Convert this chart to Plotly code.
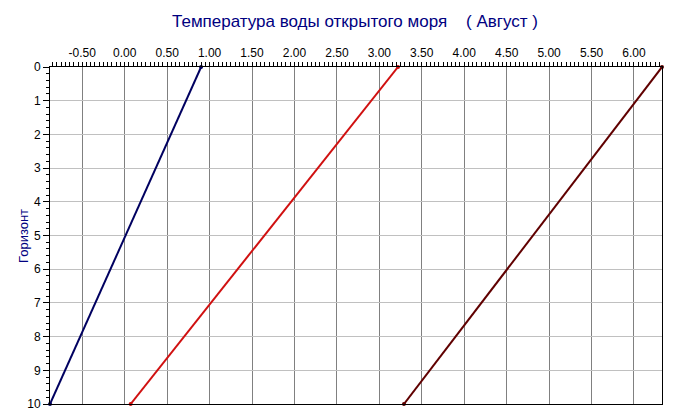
import plotly.graph_objects as go

horizons = [0, 10]
series_blue = [0.90, -0.88]
series_red = [3.22, 0.07]
series_darkred = [6.33, 3.29]
x_ticks = [-0.5, 0.0, 0.5, 1.0, 1.5, 2.0, 2.5, 3.0, 3.5, 4.0, 4.5, 5.0, 5.5, 6.0]
y_ticks = list(range(0, 11))

colors = ["#000060", "#d01010", "#600000"]

W, H = 675, 419
L, R, T, B = 50, 13, 67, 15
pw = W - L - R
ph = H - T - B

fig = go.Figure()
for vals, c in zip([series_blue, series_red, series_darkred], colors):
    fig.add_trace(go.Scatter(
        x=vals, y=horizons, mode="lines+markers",
        line=dict(color=c, width=2),
        marker=dict(color=c, size=4),
        showlegend=False, cliponaxis=False,
    ))

fig.update_layout(
    width=W, height=H,
    margin=dict(l=L, r=R, t=T, b=B, autoexpand=False),
    paper_bgcolor="white", plot_bgcolor="white",
    font=dict(family="Liberation Sans, Arial, sans-serif", size=12, color="black"),
    title=dict(text="Температура воды открытого моря    ( Август )",
               x=355 / W, xref="container", xanchor="center", y=1 - 21 / H, yref="container",
               yanchor="middle",
               font=dict(size=17, color="#000080")),
    annotations=[dict(text="Горизонт", textangle=-90, x=(23 - L) / pw, y=1 - (236 - T) / ph,
                      xref="paper", yref="paper", xanchor="center", yanchor="middle",
                      showarrow=False, font=dict(size=13, color="#000080"))],
)
fig.update_xaxes(
    side="top", range=[-0.88, 6.33], automargin=False,
    tickvals=x_ticks, ticktext=[f"{v:.2f}" for v in x_ticks],
    ticks="outside", ticklen=4, tickcolor="black", tickwidth=1,
    minor=dict(dtick=0.05, tick0=0, ticks="outside", ticklen=4, tickcolor="black", showgrid=False),
    showgrid=True, gridcolor="#808080", gridwidth=1,
    showline=True, linecolor="black", linewidth=1, mirror=True,
    zeroline=False, tickfont=dict(size=12),
)
fig.update_yaxes(
    range=[10, 0], tickvals=y_ticks, automargin=False,
    ticks="outside", ticklen=6, tickcolor="black", tickwidth=1,
    minor=dict(dtick=0.2, tick0=0, ticks="outside", ticklen=3, tickcolor="black", showgrid=False),
    showgrid=True, gridcolor="#c0c0c0", gridwidth=1,
    showline=True, linecolor="black", linewidth=1, mirror=True,
    zeroline=False, tickfont=dict(size=12),
)

fig.write_html("out.html", config={"displayModeBar": False},
               post_script="document.body.style.margin='0';")
